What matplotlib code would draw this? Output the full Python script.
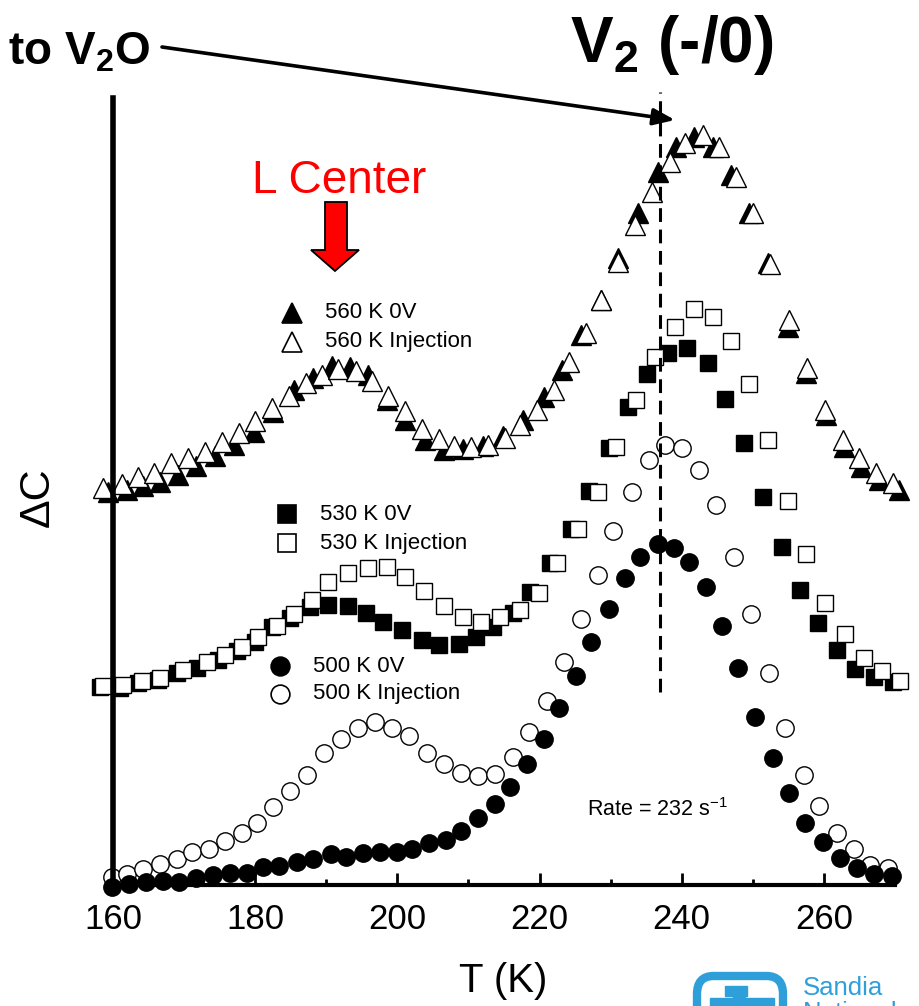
import matplotlib
matplotlib.use("Agg")
import matplotlib.pyplot as plt
from matplotlib.patches import Polygon, FancyBboxPatch, Rectangle

plt.rcParams['font.family'] = ['Liberation Sans', 'DejaVu Sans']
plt.rcParams['mathtext.fontset'] = 'custom'
plt.rcParams['mathtext.rm'] = 'Liberation Sans'
plt.rcParams['mathtext.bf'] = 'Liberation Sans:bold'

# 560 K anneal
T_560_0V = [159.3, 162.0, 164.2, 166.6, 169.2, 171.7, 174.4, 177.0, 179.9, 182.5, 185.4,
            188.2, 190.8, 193.4, 195.9, 198.5, 201.1, 203.9, 206.5, 209.3, 212.1, 214.9,
            217.7, 220.6, 223.2, 225.8, 228.6, 231.1, 233.9, 236.6, 239.2, 241.7, 244.4,
            246.9, 249.4, 252.1, 254.9, 257.5, 260.3, 262.8, 265.2, 267.7, 270.6]
dC_560_0V = [39.3, 39.5, 39.9, 40.3, 41.0, 41.9, 42.9, 44.0, 45.3, 47.3, 49.5,
             50.7, 51.9, 51.8, 51.0, 48.5, 46.5, 44.5, 43.5, 43.6, 43.9, 44.9,
             46.5, 48.8, 51.5, 55.0, 58.5, 62.7, 67.2, 71.3, 73.8, 74.8, 73.8,
             71.0, 67.2, 62.2, 55.8, 51.2, 47.0, 43.8, 41.8, 40.5, 39.5]
T_560_inj = [158.6, 161.3, 163.5, 165.8, 168.2, 170.6, 173.0, 175.4, 177.7, 180.0, 182.4,
             184.8, 187.2, 189.4, 191.7, 194.2, 196.5, 198.7, 201.1, 203.5, 205.8, 208.0,
             210.3, 212.7, 215.1, 217.3, 219.6, 222.0, 224.2, 226.5, 228.7, 231.1, 233.4,
             235.8, 238.3, 240.4, 243.0, 245.2, 247.6, 250.0, 252.4, 255.1, 257.6, 260.1,
             262.7, 264.9, 267.3, 269.7]
dC_560_inj = [39.7, 40.1, 40.8, 41.2, 42.2, 42.7, 43.3, 44.3, 45.2, 46.4, 47.7,
              48.9, 50.2, 51.0, 51.6, 51.4, 50.4, 48.9, 47.4, 45.6, 44.6, 43.9,
              43.8, 44.0, 44.7, 46.0, 47.5, 49.5, 52.3, 55.2, 58.5, 62.3, 66.0,
              69.3, 72.3, 74.2, 75.0, 73.8, 70.8, 67.2, 62.1, 56.5, 51.7, 47.5,
              44.5, 42.7, 41.2, 40.2]

# 530 K anneal
T_530_0V = [158.2, 161.0, 163.5, 166.3, 169.0, 171.8, 174.8, 177.5, 180.0, 182.4, 184.9,
            187.7, 190.3, 193.0, 195.6, 198.0, 200.7, 203.5, 205.9, 208.6, 211.0, 213.5,
            216.2, 218.7, 221.5, 224.4, 226.9, 229.7, 232.5, 235.1, 238.0, 240.7, 243.7,
            246.1, 248.7, 251.4, 254.1, 256.6, 259.2, 261.8, 264.4, 267.0, 269.7]
dC_530_0V = [19.8, 19.7, 20.2, 20.5, 21.2, 21.7, 22.5, 23.4, 24.3, 25.8, 26.7,
             27.8, 28.0, 27.9, 27.2, 26.3, 25.5, 24.5, 24.0, 24.1, 24.8, 25.8,
             27.2, 29.3, 32.2, 35.6, 39.4, 43.7, 47.8, 51.1, 53.2, 53.7, 52.2,
             48.6, 44.2, 38.8, 33.8, 29.5, 26.2, 23.5, 21.6, 20.8, 20.3]
T_530_inj = [158.6, 161.4, 164.1, 166.6, 169.9, 173.2, 175.8, 178.2, 180.4, 183.0, 185.4,
             188.0, 190.3, 193.1, 195.9, 198.5, 201.1, 203.8, 206.5, 209.2, 211.7, 214.5,
             217.2, 219.9, 222.5, 225.4, 228.2, 230.7, 233.5, 236.2, 239.0, 241.7, 244.4,
             246.9, 249.4, 252.1, 254.9, 257.5, 260.1, 263.0, 265.6, 268.2, 270.7]
dC_530_inj = [19.9, 20.0, 20.4, 20.7, 21.5, 22.3, 23.0, 23.8, 24.8, 25.9, 27.1,
              28.5, 30.3, 31.2, 31.7, 31.8, 30.8, 29.4, 27.9, 26.8, 26.3, 26.8,
              27.5, 29.2, 32.2, 35.6, 39.3, 43.8, 48.5, 52.8, 55.8, 57.6, 56.8,
              54.4, 50.1, 44.5, 38.4, 33.1, 28.2, 25.1, 22.7, 21.4, 20.4]

# 500 K anneal
T_500_0V = [159.9, 162.3, 164.6, 167.0, 169.3, 171.7, 174.1, 176.5, 178.9, 181.1, 183.4,
            185.9, 188.2, 190.6, 192.8, 195.2, 197.5, 199.9, 202.1, 204.4, 206.8, 208.9,
            211.4, 213.7, 215.9, 218.2, 220.6, 222.8, 225.1, 227.3, 229.7, 232.0, 234.2,
            236.6, 238.9, 241.0, 243.4, 245.6, 247.9, 250.3, 252.8, 255.1, 257.3, 259.9,
            262.3, 264.6, 267.0, 269.6]
dC_500_0V = [-0.2, 0.1, 0.3, 0.4, 0.3, 0.7, 1.0, 1.2, 1.2, 1.8, 1.9,
             2.3, 2.6, 3.1, 2.8, 3.2, 3.3, 3.3, 3.6, 4.2, 4.5, 5.4,
             6.7, 8.1, 9.8, 12.1, 14.6, 17.7, 20.9, 24.3, 27.6, 30.7, 32.8,
             34.1, 33.7, 32.3, 29.8, 25.9, 21.7, 16.8, 12.7, 9.2, 6.2, 4.3,
             2.7, 1.7, 1.1, 0.9]
T_500_inj = [159.9, 162.0, 164.2, 166.6, 169.0, 171.1, 173.5, 175.8, 178.2, 180.3, 182.5,
             184.9, 187.3, 189.7, 192.1, 194.5, 196.9, 199.3, 201.7, 204.2, 206.5, 208.9,
             211.3, 213.7, 216.2, 218.5, 221.1, 223.4, 225.8, 228.2, 230.4, 233.0, 235.4,
             237.7, 240.1, 242.4, 244.8, 247.3, 249.7, 252.3, 254.5, 257.2, 259.3, 261.8,
             264.2, 266.5, 269.0]
dC_500_inj = [0.8, 1.1, 1.6, 2.1, 2.6, 3.3, 3.6, 4.4, 5.2, 6.2, 7.8,
              9.4, 11.0, 13.2, 14.6, 15.7, 16.3, 15.7, 14.9, 13.2, 12.1, 11.2,
              10.9, 11.1, 12.8, 15.3, 18.4, 22.3, 26.6, 31.0, 35.4, 39.3, 42.5,
              44.0, 43.7, 41.5, 38.0, 32.8, 27.1, 21.2, 15.7, 11.0, 7.9, 5.2,
              3.6, 2.0, 1.7]

x_ticks = [160, 180, 200, 220, 240, 260]
x_minor = [170, 190, 210, 230, 250]
T_V2 = 236.9
V2_line = (19.3, 79.3)

W, H = 919, 1006
fig = plt.figure(figsize=(W / 100, H / 100), dpi=100)
ax = fig.add_axes([113 / W, 1 - 885 / H, 782 / W, 787 / H])


def fx(px):
    return px / W


def fy(py):
    return 1 - py / H


mew = 1.0
ax.plot(T_560_0V, dC_560_0V, '^', ms=14, mfc='black', mec='black', mew=mew, clip_on=False)
ax.plot(T_560_inj, dC_560_inj, '^', ms=14, mfc='white', mec='black', mew=mew, clip_on=False)
ax.plot(T_530_0V, dC_530_0V, 's', ms=11.5, mfc='black', mec='black', mew=mew, clip_on=False)
ax.plot(T_530_inj, dC_530_inj, 's', ms=11.5, mfc='white', mec='black', mew=mew, clip_on=False)
ax.plot(T_500_inj, dC_500_inj, 'o', ms=12.5, mfc='white', mec='black', mew=mew, clip_on=False)
ax.plot(T_500_0V, dC_500_0V, 'o', ms=12.5, mfc='black', mec='black', mew=mew, clip_on=False)

ax.plot([T_V2, T_V2], V2_line, color='black', lw=2.2, dashes=(4.5, 2.5), clip_on=False)

ax.set_xlim(160, 270)
ax.set_ylim(0, 78.7)
ax.set_xticks(x_ticks)
ax.set_xticks(x_minor, minor=True)
ax.set_yticks([])
ax.tick_params(axis='x', which='major', direction='in', length=9, width=2,
               labelsize=25, pad=13)
ax.tick_params(axis='x', which='minor', direction='in', length=4.5, width=2)
for s in ['top', 'right']:
    ax.spines[s].set_visible(False)
ax.spines['left'].set_linewidth(4)
ax.spines['bottom'].set_linewidth(3)
ax.set_facecolor('none')

# axis labels
fig.text(fx(503), fy(981), 'T (K)', fontsize=29, ha='center', va='center')
fig.text(fx(38), fy(497), '\u0394C', fontsize=31, ha='center', va='center', rotation=90)

# titles / annotations
fig.text(fx(8), fy(65), r'to V$_\mathbf{2}$O', fontsize=33, fontweight='bold',
         ha='left', va='baseline')
fig.text(fx(570), fy(62), r'V$_\mathbf{2}$ (-/0)', fontsize=46, fontweight='bold',
         ha='left', va='baseline')
ax.annotate('', xy=(fx(675), fy(120)), xycoords='figure fraction',
            xytext=(fx(162), fy(47)), textcoords='figure fraction',
            arrowprops=dict(arrowstyle='-|>,head_length=1.3,head_width=0.5',
                            lw=2.6, color='black', shrinkA=0, shrinkB=0))

fig.text(fx(252), fy(193), 'L Center', fontsize=33, color='#ff0000',
         ha='left', va='baseline')
red_arrow = [(325, 202), (347, 202), (347, 250), (359, 250), (335, 271),
             (311, 250), (325, 250)]
fig.add_artist(Polygon([(fx(x), fy(y)) for x, y in red_arrow], closed=True,
                       facecolor='#ff0000', edgecolor='black', lw=1.3,
                       transform=fig.transFigure))

# legends
legend_items = [
    ('^', 'black', '560 K 0V', 292, 313, 14),
    ('^', 'white', '560 K Injection', 292, 342, 14),
    ('s', 'black', '530 K 0V', 287, 514, 12.5),
    ('s', 'white', '530 K Injection', 287, 543, 12.5),
    ('o', 'black', '500 K 0V', 280, 666, 13.5),
    ('o', 'white', '500 K Injection', 280, 694, 13.5),
]
for mk, fc, lab, px, py, ms in legend_items:
    ax.plot([fx(px)], [fy(py)], mk, ms=ms, mfc=fc, mec='black', mew=1.2,
            transform=fig.transFigure, clip_on=False)
    fig.text(fx(px + 33), fy(py), lab, fontsize=16, ha='left', va='center')

fig.text(fx(587), fy(810), r'Rate = 232 s$^{-1}$', fontsize=15.5, ha='left', va='center')

# Sandia logo (cropped at bottom edge)
blue = '#2e9fd8'
fig.add_artist(FancyBboxPatch((fx(697), fy(1040)), fx(86), 1040 / H - 976 / H,
                              boxstyle='round,pad=0,rounding_size=0.018',
                              facecolor='none', edgecolor=blue, lw=6,
                              transform=fig.transFigure))
fig.add_artist(Rectangle((fx(725), fy(996)), fx(22), 10 / H, color=blue,
                         transform=fig.transFigure))
fig.add_artist(Rectangle((fx(710), fy(1010)), fx(64), 12 / H, color=blue,
                         transform=fig.transFigure))
fig.add_artist(Rectangle((fx(733), fy(1000)), fx(12), 6 / H, color=blue,
                         transform=fig.transFigure))
fig.text(fx(803), fy(995), 'Sandia', fontsize=18.5, color=blue, ha='left',
         va='baseline')
fig.text(fx(803), fy(1020), 'National', fontsize=18.5, color=blue, ha='left',
         va='baseline')

fig.savefig('out.png', dpi=100)
